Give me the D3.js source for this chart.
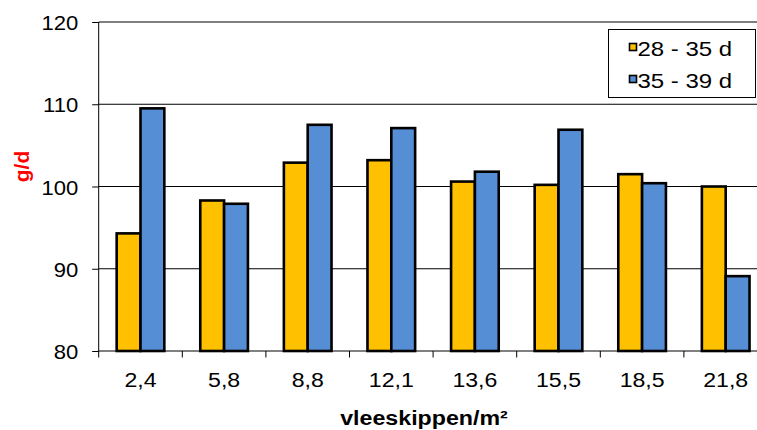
<!DOCTYPE html>
<html>
<head>
<meta charset="utf-8">
<script src="https://cdn.jsdelivr.net/npm/d3@7"></script>
<style>
  html, body { margin: 0; padding: 0; background: #fff; }
  svg { display: block; font-family: "Liberation Sans", Arial, sans-serif; }
</style>
</head>
<body>
<svg id="chart" width="757" height="430"></svg>
<script>
// Stocking density (broilers per m²) on the x axis
const categories = ["2,4", "5,8", "8,8", "12,1", "13,6", "15,5", "18,5", "21,8"];
// Daily growth (g/d) per period
const seriesNames = ["28 - 35 d", "35 - 39 d"];
const growth28to35 = [94.3, 98.3, 102.9, 103.2, 100.6, 100.2, 101.5, 100.0];
const growth35to39 = [109.5, 97.9, 107.5, 107.1, 101.8, 106.9, 100.4, 89.1];
const yTicks = [80, 90, 100, 110, 120];
const colors = ["#FFC000", "#558ED5"];

const svg = d3.select("#chart");
const plotLeft = 98.7, plotRight = 767.5, plotTop = 22, plotBottom = 351;

const x = d3.scaleBand().domain(categories).range([plotLeft, plotRight]).padding(0);
const groupPad = 0.215;
const xs = d3.scaleBand().domain(seriesNames)
  .range([x.bandwidth() * groupPad, x.bandwidth() * (1 - groupPad)]).padding(0);
const y = d3.scaleLinear().domain([80, 120]).range([plotBottom, plotTop]);

// Horizontal gridlines
svg.append("g").selectAll("line").data(yTicks.filter(d => d > 80)).join("line")
  .attr("x1", plotLeft).attr("x2", plotRight)
  .attr("y1", d => y(d)).attr("y2", d => y(d))
  .attr("stroke", "#000").attr("stroke-width", 1);

// Bars
const rows = categories.map((c, i) => ({ c, vals: [growth28to35[i], growth35to39[i]] }));
const groups = svg.append("g").selectAll("g").data(rows).join("g")
  .attr("transform", d => `translate(${x(d.c)},0)`);
groups.selectAll("rect")
  .data(d => d.vals.map((v, j) => ({ name: seriesNames[j], v, j })))
  .join("rect")
  .attr("x", d => xs(d.name))
  .attr("width", xs.bandwidth())
  .attr("y", d => y(d.v))
  .attr("height", d => y(80) - y(d.v))
  .attr("fill", d => colors[d.j])
  .attr("stroke", "#000").attr("stroke-width", 2.6);

// Y axis
const yAxis = svg.append("g").attr("transform", `translate(${plotLeft},0)`)
  .call(d3.axisLeft(y).tickValues(yTicks).tickSize(6.5).tickPadding(14).tickFormat(d3.format("d")));
yAxis.select(".domain").attr("stroke", "#000").attr("d", `M0,${plotTop}V${plotBottom}`);
yAxis.selectAll(".tick line").attr("stroke", "#000");
yAxis.selectAll(".tick text")
  .attr("font-size", 21).attr("fill", "#000")
  .attr("font-family", "'Liberation Sans', Arial, sans-serif")
  .attr("dy", "0.36em")
  .attr("transform", "scale(1.05,1)")
  .attr("x", -20.5 / 1.05);

// X axis with ticks at the category boundaries
const xAxis = svg.append("g").attr("transform", `translate(0,${plotBottom})`);
xAxis.append("line").attr("x1", plotLeft).attr("x2", plotRight).attr("y1", 0).attr("y2", 0).attr("stroke", "#000");
xAxis.selectAll("line.tk").data(d3.range(categories.length)).join("line").attr("class", "tk")
  .attr("x1", i => x(categories[i])).attr("x2", i => x(categories[i]))
  .attr("y1", 0).attr("y2", 6.5).attr("stroke", "#000");
xAxis.selectAll("text").data(categories).join("text")
  .attr("transform", d => `translate(${x(d) + x.bandwidth() / 2},36) scale(1.1,1)`)
  .attr("text-anchor", "middle").attr("font-size", 21).attr("fill", "#000")
  .text(d => d);

// Axis titles
svg.append("text")
  .attr("transform", "translate(424,425) scale(1.19,1)")
  .attr("text-anchor", "middle").attr("font-size", 19.5).attr("font-weight", "bold")
  .attr("fill", "#000").text("vleeskippen/m²");
svg.append("text")
  .attr("transform", "translate(29,166.5) rotate(-90)")
  .attr("text-anchor", "middle").attr("font-size", 21).attr("font-weight", "bold")
  .attr("fill", "#FF0000").text("g/d");

// Legend
const legend = svg.append("g");
legend.append("rect").attr("x", 608.5).attr("y", 29.5).attr("width", 147).attr("height", 68)
  .attr("fill", "#fff").attr("stroke", "#000").attr("stroke-width", 1);
const items = legend.selectAll("g.item").data(seriesNames).join("g").attr("class", "item")
  .attr("transform", (d, i) => `translate(0,${i * 32})`);
items.append("rect").attr("x", 629.5).attr("y", 43.5).attr("width", 7).attr("height", 7)
  .attr("fill", (d, i) => colors[i]).attr("stroke", "#000").attr("stroke-width", 1.6);
items.append("text").attr("transform", "translate(637.5,56) scale(1.2,1)")
  .attr("font-size", 20).attr("fill", "#000").text(d => d);
</script>
</body>
</html>
